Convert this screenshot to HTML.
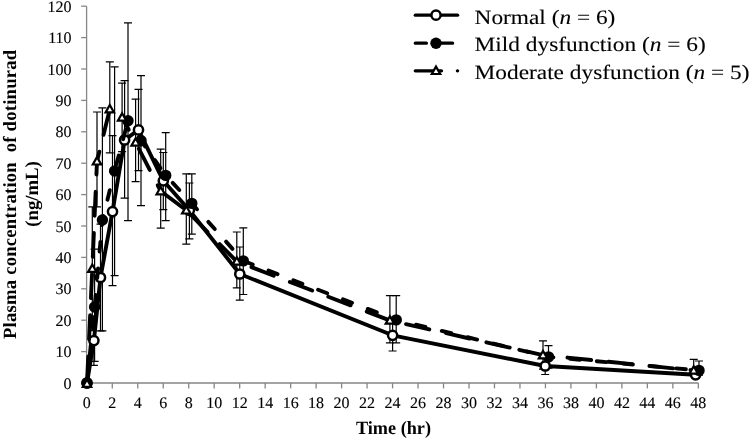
<!DOCTYPE html>
<html><head><meta charset="utf-8"><title>Plasma concentration of dotinurad</title>
<style>html,body{margin:0;padding:0;background:#fff}body{width:750px;height:440px;position:relative;overflow:hidden;font-family:"Liberation Serif",serif}</style></head>
<body>
<svg width="750" height="440" viewBox="0 0 750 440" style="position:absolute;left:0;top:0;will-change:transform;text-rendering:geometricPrecision">
<rect width="750" height="440" fill="#fff"/>
<g stroke="#868686" stroke-width="1.3" fill="none">
<path d="M86.6 6.2V383.0H698.4"/>
<path d="M81.2 383.00H86.6"/>
<path d="M81.2 351.60H86.6"/>
<path d="M81.2 320.20H86.6"/>
<path d="M81.2 288.80H86.6"/>
<path d="M81.2 257.40H86.6"/>
<path d="M81.2 226.00H86.6"/>
<path d="M81.2 194.60H86.6"/>
<path d="M81.2 163.20H86.6"/>
<path d="M81.2 131.80H86.6"/>
<path d="M81.2 100.40H86.6"/>
<path d="M81.2 69.00H86.6"/>
<path d="M81.2 37.60H86.6"/>
<path d="M81.2 6.20H86.6"/>
<path d="M86.80 383.0V388.4"/>
<path d="M112.28 383.0V388.4"/>
<path d="M137.76 383.0V388.4"/>
<path d="M163.24 383.0V388.4"/>
<path d="M188.72 383.0V388.4"/>
<path d="M214.20 383.0V388.4"/>
<path d="M239.68 383.0V388.4"/>
<path d="M265.16 383.0V388.4"/>
<path d="M290.64 383.0V388.4"/>
<path d="M316.12 383.0V388.4"/>
<path d="M341.60 383.0V388.4"/>
<path d="M367.08 383.0V388.4"/>
<path d="M392.56 383.0V388.4"/>
<path d="M418.04 383.0V388.4"/>
<path d="M443.52 383.0V388.4"/>
<path d="M469.00 383.0V388.4"/>
<path d="M494.48 383.0V388.4"/>
<path d="M519.96 383.0V388.4"/>
<path d="M545.44 383.0V388.4"/>
<path d="M570.92 383.0V388.4"/>
<path d="M596.40 383.0V388.4"/>
<path d="M621.88 383.0V388.4"/>
<path d="M647.36 383.0V388.4"/>
<path d="M672.84 383.0V388.4"/>
<path d="M698.32 383.0V388.4"/>
</g>
<g font-family="Liberation Serif, serif" font-size="16" fill="#000" stroke="#000" stroke-width="0.12">
<text x="71.6" y="388.60" text-anchor="end">0</text>
<text x="71.6" y="357.20" text-anchor="end">10</text>
<text x="71.6" y="325.80" text-anchor="end">20</text>
<text x="71.6" y="294.40" text-anchor="end">30</text>
<text x="71.6" y="263.00" text-anchor="end">40</text>
<text x="71.6" y="231.60" text-anchor="end">50</text>
<text x="71.6" y="200.20" text-anchor="end">60</text>
<text x="71.6" y="168.80" text-anchor="end">70</text>
<text x="71.6" y="137.40" text-anchor="end">80</text>
<text x="71.6" y="106.00" text-anchor="end">90</text>
<text x="71.6" y="74.60" text-anchor="end">100</text>
<text x="71.6" y="43.20" text-anchor="end">110</text>
<text x="71.6" y="11.80" text-anchor="end">120</text>
<text x="86.80" y="407.6" text-anchor="middle">0</text>
<text x="112.28" y="407.6" text-anchor="middle">2</text>
<text x="137.76" y="407.6" text-anchor="middle">4</text>
<text x="163.24" y="407.6" text-anchor="middle">6</text>
<text x="188.72" y="407.6" text-anchor="middle">8</text>
<text x="214.20" y="407.6" text-anchor="middle">10</text>
<text x="239.68" y="407.6" text-anchor="middle">12</text>
<text x="265.16" y="407.6" text-anchor="middle">14</text>
<text x="290.64" y="407.6" text-anchor="middle">16</text>
<text x="316.12" y="407.6" text-anchor="middle">18</text>
<text x="341.60" y="407.6" text-anchor="middle">20</text>
<text x="367.08" y="407.6" text-anchor="middle">22</text>
<text x="392.56" y="407.6" text-anchor="middle">24</text>
<text x="418.04" y="407.6" text-anchor="middle">26</text>
<text x="443.52" y="407.6" text-anchor="middle">28</text>
<text x="469.00" y="407.6" text-anchor="middle">30</text>
<text x="494.48" y="407.6" text-anchor="middle">32</text>
<text x="519.96" y="407.6" text-anchor="middle">34</text>
<text x="545.44" y="407.6" text-anchor="middle">36</text>
<text x="570.92" y="407.6" text-anchor="middle">38</text>
<text x="596.40" y="407.6" text-anchor="middle">40</text>
<text x="621.88" y="407.6" text-anchor="middle">42</text>
<text x="647.36" y="407.6" text-anchor="middle">44</text>
<text x="672.84" y="407.6" text-anchor="middle">46</text>
<text x="698.32" y="407.6" text-anchor="middle">48</text>
</g>
<g font-family="Liberation Serif, serif" font-size="18.67" font-weight="bold" fill="#000">
<text x="393.5" y="434.4" text-anchor="middle" textLength="75" lengthAdjust="spacingAndGlyphs">Time (hr)</text>
<text transform="translate(15.7 194.4) rotate(-90)" text-anchor="middle" textLength="289.3" lengthAdjust="spacing" xml:space="preserve">Plasma concentration  of dotinurad</text>
<text transform="translate(37.8 194) rotate(-90)" text-anchor="middle" textLength="65.5" lengthAdjust="spacingAndGlyphs">(ng/mL)</text>
</g>
<path d="M93.9 315.8V365.4M89.9 315.8h8M89.9 365.4h8M100.5 224.1V330.9M96.5 224.1h8M96.5 330.9h8M112.5 135.6V285.7M108.5 135.6h8M108.5 285.7h8M124.6 80.6V198.1M120.6 80.6h8M120.6 198.1h8M138.5 89.4V170.7M134.5 89.4h8M134.5 170.7h8M163.3 152.5V209.7M159.3 152.5h8M159.3 209.7h8M189.4 183.0V238.9M185.4 183.0h8M185.4 238.9h8M239.8 247.0V300.1M235.8 247.0h8M235.8 300.1h8M392.6 319.6V351.0M388.6 319.6h8M388.6 351.0h8M545.2 357.6V374.5M541.2 357.6h8M541.2 374.5h8M695.6 370.1V377.3M691.6 370.1h8M691.6 377.3h8" stroke="#000" stroke-width="1.2" fill="none"/>
<path d="M94.6 249.2V361.3M90.6 249.2h8M90.6 361.3h8M102.4 107.9V330.9M98.4 107.9h8M98.4 330.9h8M114.6 66.8V275.6M110.6 66.8h8M110.6 275.6h8M128.0 22.8V220.7M124.0 22.8h8M124.0 220.7h8M141.0 75.6V205.6M137.0 75.6h8M137.0 205.6h8M165.7 132.6V220.7M161.7 132.6h8M161.7 220.7h8M191.8 173.9V234.2M187.8 173.9h8M187.8 234.2h8M243.3 227.9V294.5M239.3 227.9h8M239.3 294.5h8M396.2 295.7V342.8M392.2 295.7h8M392.2 342.8h8M548.5 345.6V368.2M544.5 345.6h8M544.5 368.2h8M699.0 361.0V375.1M695.0 361.0h8M695.0 375.1h8" stroke="#000" stroke-width="1.2" fill="none"/>
<path d="M92.3 206.8V330.6M88.3 206.8h8M88.3 330.6h8M97.0 112.0V206.8M93.0 112.0h8M93.0 206.8h8M109.8 61.8V152.8M105.8 61.8h8M105.8 152.8h8M122.1 83.1V151.6M118.1 83.1h8M118.1 151.6h8M135.6 99.1V181.7M131.6 99.1h8M131.6 181.7h8M160.7 149.1V228.2M156.7 149.1h8M156.7 228.2h8M186.3 173.9V244.2M182.3 173.9h8M182.3 244.2h8M236.8 232.0V287.9M232.8 232.0h8M232.8 287.9h8M389.9 295.7V342.8M385.9 295.7h8M385.9 342.8h8M543.0 340.9V369.2M539.0 340.9h8M539.0 369.2h8M693.7 359.4V374.8M689.7 359.4h8M689.7 374.8h8" stroke="#000" stroke-width="1.2" fill="none"/>
<polyline points="87.0,383.0 93.9,340.6 100.5,277.5 112.5,211.6 124.6,140.0 138.5,129.9 163.3,180.8 189.4,210.3 239.8,274.0 392.6,335.3 545.2,366.0 695.6,374.8" fill="none" stroke="#000" stroke-width="3.9" stroke-linejoin="round" stroke-linecap="round"/>
<circle cx="87.0" cy="383.0" r="4.6" fill="#fff" stroke="#000" stroke-width="2.5"/>
<circle cx="93.9" cy="340.6" r="4.6" fill="#fff" stroke="#000" stroke-width="2.5"/>
<circle cx="100.5" cy="277.5" r="4.6" fill="#fff" stroke="#000" stroke-width="2.5"/>
<circle cx="112.5" cy="211.6" r="4.6" fill="#fff" stroke="#000" stroke-width="2.5"/>
<circle cx="124.6" cy="140.0" r="4.6" fill="#fff" stroke="#000" stroke-width="2.5"/>
<circle cx="138.5" cy="129.9" r="4.6" fill="#fff" stroke="#000" stroke-width="2.5"/>
<circle cx="163.3" cy="180.8" r="4.6" fill="#fff" stroke="#000" stroke-width="2.5"/>
<circle cx="189.4" cy="210.3" r="4.6" fill="#fff" stroke="#000" stroke-width="2.5"/>
<circle cx="239.8" cy="274.0" r="4.6" fill="#fff" stroke="#000" stroke-width="2.5"/>
<circle cx="392.6" cy="335.3" r="4.6" fill="#fff" stroke="#000" stroke-width="2.5"/>
<circle cx="545.2" cy="366.0" r="4.6" fill="#fff" stroke="#000" stroke-width="2.5"/>
<circle cx="695.6" cy="374.8" r="4.6" fill="#fff" stroke="#000" stroke-width="2.5"/>
<g fill="none" stroke="#000" stroke-width="3.9" stroke-linecap="round"><path d="M87.0 383.0L94.6 307.0" stroke-dasharray="9.70 16.90" stroke-dashoffset="24.65"/><path d="M94.6 307.0L102.4 220.0" stroke-dasharray="9.70 16.90" stroke-dashoffset="24.15"/><path d="M102.4 220.0L114.6 171.0" stroke-dasharray="9.70 16.90" stroke-dashoffset="5.65"/><path d="M114.6 171.0L128.0 120.8" stroke-dasharray="9.70 16.90" stroke-dashoffset="20.25"/><path d="M128.0 120.8L141.0 140.6" stroke-dasharray="9.70 16.90" stroke-dashoffset="7.05"/><path d="M141.0 140.6L165.7 175.4" stroke-dasharray="9.70 16.90" stroke-dashoffset="2.65"/><path d="M165.7 175.4L191.8 203.4" stroke-dasharray="9.70 16.90" stroke-dashoffset="16.35"/><path d="M191.8 203.4L243.3 260.9" stroke-dasharray="9.70 16.90" stroke-dashoffset="1.85"/><path d="M243.3 260.9L396.2 319.9" stroke-dasharray="9.70 16.90" stroke-dashoffset="26.17"/><path d="M396.2 319.9L548.5 356.9" stroke-dasharray="9.70 16.90" stroke-dashoffset="6.28"/><path d="M548.5 356.9L699.0 370.4" stroke-dasharray="9.70 16.90" stroke-dashoffset="4.77"/></g>
<circle cx="87.0" cy="383.0" r="5.7" fill="#000"/>
<circle cx="94.6" cy="307.0" r="5.7" fill="#000"/>
<circle cx="102.4" cy="220.0" r="5.7" fill="#000"/>
<circle cx="114.6" cy="171.0" r="5.7" fill="#000"/>
<circle cx="128.0" cy="120.8" r="5.7" fill="#000"/>
<circle cx="141.0" cy="140.6" r="5.7" fill="#000"/>
<circle cx="165.7" cy="175.4" r="5.7" fill="#000"/>
<circle cx="191.8" cy="203.4" r="5.7" fill="#000"/>
<circle cx="243.3" cy="260.9" r="5.7" fill="#000"/>
<circle cx="396.2" cy="319.9" r="5.7" fill="#000"/>
<circle cx="548.5" cy="356.9" r="5.7" fill="#000"/>
<circle cx="699.0" cy="370.4" r="5.7" fill="#000"/>
<g fill="none" stroke="#000" stroke-width="3.9" stroke-linecap="round"><path d="M87.0 383.6L92.3 268.7" stroke-dasharray="23.90 17.30" stroke-dashoffset="37.95"/><path d="M92.3 268.7L97.0 161.3" stroke-dasharray="23.90 17.30" stroke-dashoffset="29.35"/><path d="M97.0 161.3L109.8 109.2" stroke-dasharray="23.90 17.30" stroke-dashoffset="13.95"/><path d="M109.8 109.2L122.1 117.4" stroke-dasharray="23.90 17.30" stroke-dashoffset="25.75"/><path d="M122.1 117.4L135.6 142.5" stroke-dasharray="23.90 17.30" stroke-dashoffset="9.85"/><path d="M135.6 142.5L160.7 191.1" stroke-dasharray="23.90 17.30" stroke-dashoffset="34.25"/><path d="M160.7 191.1L186.3 210.3" stroke-dasharray="23.90 17.30" stroke-dashoffset="37.25"/><path d="M186.3 210.3L236.8 261.5" stroke-dasharray="23.90 17.30" stroke-dashoffset="34.95"/><path d="M236.8 261.5L389.9 320.5" stroke-dasharray="23.90 17.30" stroke-dashoffset="25.53"/><path d="M389.9 320.5L543.0 355.1" stroke-dasharray="23.90 17.30" stroke-dashoffset="24.69"/><path d="M543.0 355.1L693.7 370.4" stroke-dasharray="23.90 17.30" stroke-dashoffset="16.63"/></g>
<path d="M87.0 379.4L91.2 386.8H82.8Z" fill="#fff" stroke="#000" stroke-width="2.2" stroke-linejoin="miter"/>
<path d="M92.3 264.5L96.5 271.9H88.1Z" fill="#fff" stroke="#000" stroke-width="2.2" stroke-linejoin="miter"/>
<path d="M97.0 157.1L101.2 164.5H92.8Z" fill="#fff" stroke="#000" stroke-width="2.2" stroke-linejoin="miter"/>
<path d="M109.8 105.0L114.0 112.4H105.6Z" fill="#fff" stroke="#000" stroke-width="2.2" stroke-linejoin="miter"/>
<path d="M122.1 113.2L126.3 120.6H117.9Z" fill="#fff" stroke="#000" stroke-width="2.2" stroke-linejoin="miter"/>
<path d="M135.6 138.3L139.8 145.7H131.4Z" fill="#fff" stroke="#000" stroke-width="2.2" stroke-linejoin="miter"/>
<path d="M160.7 186.9L164.9 194.3H156.5Z" fill="#fff" stroke="#000" stroke-width="2.2" stroke-linejoin="miter"/>
<path d="M186.3 206.1L190.5 213.5H182.1Z" fill="#fff" stroke="#000" stroke-width="2.2" stroke-linejoin="miter"/>
<path d="M236.8 257.3L241.0 264.7H232.6Z" fill="#fff" stroke="#000" stroke-width="2.2" stroke-linejoin="miter"/>
<path d="M389.9 316.3L394.1 323.7H385.7Z" fill="#fff" stroke="#000" stroke-width="2.2" stroke-linejoin="miter"/>
<path d="M543.0 350.9L547.2 358.3H538.8Z" fill="#fff" stroke="#000" stroke-width="2.2" stroke-linejoin="miter"/>
<path d="M693.7 366.2L697.9 373.6H689.5Z" fill="#fff" stroke="#000" stroke-width="2.2" stroke-linejoin="miter"/>
<g stroke="#000" stroke-width="3.3" fill="none" stroke-linecap="round">
<path d="M415.3 15.2H457.6"/>
<path d="M415.3 43.2H426.4M440.8 43.2H452.6"/>
<path d="M415.3 70.8H441.5M457.4 70.8H457.6"/>
</g>
<circle cx="436.0" cy="15.2" r="4.6" fill="#fff" stroke="#000" stroke-width="2.5"/>
<circle cx="436.0" cy="43.2" r="5.7" fill="#000"/>
<path d="M436.0 66.6L440.2 74.0H431.8Z" fill="#fff" stroke="#000" stroke-width="2.2" stroke-linejoin="miter"/>
<g font-family="Liberation Serif, serif" font-size="20.4" fill="#000" stroke="#000" stroke-width="0.1">
<text transform="translate(474.6 23.8) scale(1.1435 1)">Normal (<tspan font-style="italic">n</tspan> = 6)</text>
<text transform="translate(474.6 51.2) scale(1.1451 1)">Mild dysfunction (<tspan font-style="italic">n</tspan> = 6)</text>
<text transform="translate(474.6 78.8) scale(1.1439 1)">Moderate dysfunction (<tspan font-style="italic">n</tspan> = 5)</text>
</g>
</svg>
</body></html>
